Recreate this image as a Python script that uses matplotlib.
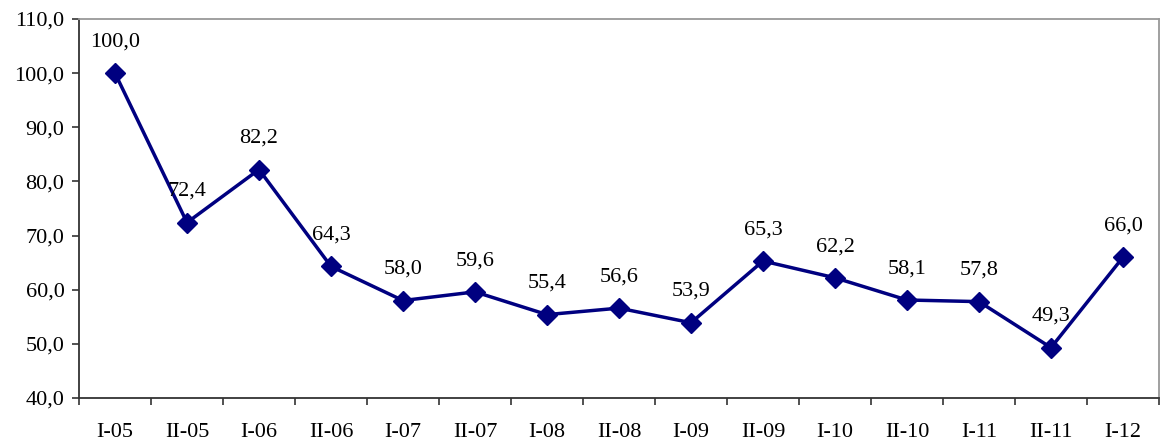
import matplotlib.pyplot as plt
import numpy as np

periods = ['I-05', 'II-05', 'I-06', 'II-06', 'I-07', 'II-07', 'I-08', 'II-08',
           'I-09', 'II-09', 'I-10', 'II-10', 'I-11', 'II-11', 'I-12']
values = [100.0, 72.4, 82.2, 64.3, 58.0, 59.6, 55.4, 56.6,
          53.9, 65.3, 62.2, 58.1, 57.8, 49.3, 66.0]

plt.rcParams['font.family'] = ['Liberation Serif', 'DejaVu Serif']

fig = plt.figure(figsize=(11.6, 4.43), dpi=100)
ax = fig.add_axes([79/1160, 45/443, 1080/1160, 379/443])

x = np.arange(len(periods))
ax.plot(x, values, color='#000080', lw=2.5, marker='D', ms=10.5, zorder=3)

for xi, v in zip(x, values):
    ax.annotate(f'{v:.1f}'.replace('.', ','), (xi, v), xytext=(0, 22.5),
                textcoords='offset points', ha='center', va='center', fontsize=16)

ax.set_xlim(-0.5, len(periods) - 0.5)
ax.set_ylim(40, 110)
yt = np.arange(40, 111, 10)
ax.set_yticks(yt)
ax.set_yticklabels([f'{t:.1f}'.replace('.', ',') for t in yt], fontsize=16)

ax.set_xticks(x)
ax.set_xticklabels(periods, fontsize=16)
ax.set_xticks(np.arange(-0.5, len(periods)), minor=True)
ax.tick_params(axis='x', which='major', length=0, pad=18)
ax.tick_params(axis='x', which='minor', length=5, width=1.2, color='#333333')
ax.tick_params(axis='y', length=5, width=1.2, color='#333333', pad=5.5)

for s in ['left', 'bottom']:
    ax.spines[s].set_color('#333333')
    ax.spines[s].set_linewidth(1.3)
for s in ['top', 'right']:
    ax.spines[s].set_color('#999999')
    ax.spines[s].set_linewidth(1.3)

fig.savefig('out.png', dpi=100)
